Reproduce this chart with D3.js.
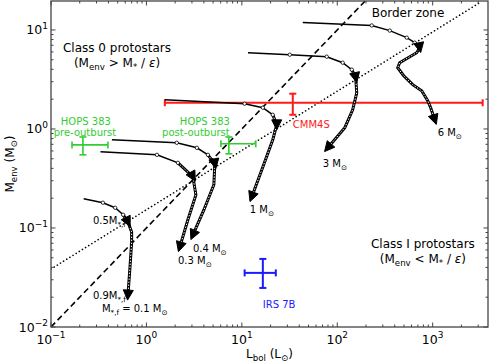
<!DOCTYPE html>
<html>
<head>
<meta charset="utf-8">
<script src="https://cdn.jsdelivr.net/npm/d3@7"></script>
<style>
body { margin: 0; background: #fff; }
text { font-family: "DejaVu Sans", sans-serif; }
</style>
</head>
<body>
<script>
var width = 491, height = 362;

// evolutionary tracks, final stellar mass and (Lbol, Menv) points
var trackMass = ["0.1", "0.3", "0.4", "1", "3", "6"];
var trackL = [
  [0.22, 0.35, 0.47, 0.57, 0.64, 0.70, 0.70, 0.67, 0.64],
  [0.33, 1.29, 2.14, 3.07, 3.30, 2.72, 2.24],
  [0.435, 2.08, 3.38, 4.41, 5.21, 5.09, 4.0, 3.07],
  [1.56, 10.7, 16.6, 21.1, 23.2, 21.1, 16.2, 12.7],
  [11.6, 31.8, 77.6, 114, 142, 156, 160, 145, 120, 79.6],
  [43.5, 230, 355, 535, 648, 731, 680, 451, 430, 497, 618, 767, 887, 953, 1050]
];
var trackM = [
  [0.197, 0.18, 0.16, 0.136, 0.115, 0.091, 0.071, 0.038, 0.021],
  [0.588, 0.548, 0.455, 0.329, 0.216, 0.121, 0.0644],
  [0.778, 0.725, 0.645, 0.548, 0.444, 0.273, 0.152, 0.085],
  [1.97, 1.80, 1.64, 1.39, 1.10, 0.778, 0.387, 0.206],
  [5.89, 5.62, 5.37, 4.67, 3.97, 3.30, 2.32, 1.56, 1.03, 0.646],
  [11.9, 11.1, 9.85, 8.36, 7.44, 6.62, 5.89, 4.67, 4.15, 3.45, 2.80, 2.43, 1.93, 1.64, 1.24]
];
// index of the point where half the final mass is reached
var halfIdx = [4, 3, 4, 4, 5, 5];

// observed sources
var srcName = ["HOPS 383 pre", "HOPS 383 post", "CMM4S", "IRS 7B"];
var srcL   = [0.216, 7.31, 34.2, 16.6];
var srcLlo = [0.166, 6.03, 1.56, 10.7];
var srcLhi = [0.395, 14.0, 3340, 22.7];
var srcM   = [0.69, 0.708, 1.84, 0.0352];
var srcMlo = [0.548, 0.561, 1.39, 0.0248];
var srcMhi = [0.83, 0.83, 2.27, 0.0487];
var srcColor = ["#33cc33", "#33cc33", "#ff1a1a", "#1a1aff"];

// class boundaries
var dashL = [0.1, 196], dashM = [0.01, 19.6];
var dotL = [0.1, 3240], dotM = [0.0385, 19.3];

var xMajor = [0.1, 1, 10, 100, 1000];
var yMajor = [0.01, 0.1, 1, 10];
var xExp = ["\u22121", "0", "1", "2", "3"];
var yExp = ["\u22122", "\u22121", "0", "1"];

var pLeft = 51, pRight = 488, pTop = 1, pBottom = 327;

var x = d3.scaleLog().domain([0.1, 3800]).range([pLeft, pRight]);
var y = d3.scaleLog().domain([0.01, 19.6]).range([pBottom, pTop]);

var svg = d3.select("body").append("svg")
    .attr("width", width)
    .attr("height", height);

svg.append("clipPath").attr("id", "clip")
  .append("rect").attr("x", pLeft).attr("y", pTop)
    .attr("width", pRight - pLeft).attr("height", pBottom - pTop);

// text with sub/superscripts
function rich(sel, px, py, parts, size, color, anchor) {
  var t = sel.append("text")
      .attr("x", px).attr("y", py)
      .attr("font-size", size)
      .attr("fill", color || "#000")
      .attr("text-anchor", anchor || "start");
  var off = 0;
  parts.forEach(function(p) {
    var s = typeof p === "string" ? [p, ""] : p;
    var target = s[1] == "sub" ? size * 0.28 : s[1] == "sup" ? -size * 0.45 : 0;
    var ts = t.append("tspan").text(s[0]).attr("dy", target - off);
    if (s[1] == "sub" || s[1] == "sup") ts.attr("font-size", size * 0.72);
    if (s[1] == "it") ts.attr("font-style", "italic");
    off = target;
  });
  return t;
}

var plot = svg.append("g").attr("clip-path", "url(#clip)");

var line = d3.line()
    .x(function(d) { return x(d[0]); })
    .y(function(d) { return y(d[1]); });

plot.append("path")
    .attr("d", line(d3.zip(dashL, dashM)))
    .attr("fill", "none").attr("stroke", "#000")
    .attr("stroke-width", 1.6).attr("stroke-dasharray", "6,3.5");

plot.append("path")
    .attr("d", line(d3.zip(dotL, dotM)))
    .attr("fill", "none").attr("stroke", "#000")
    .attr("stroke-width", 1.6).attr("stroke-linecap", "round")
    .attr("stroke-dasharray", "0.1,3.6");

// error bars
srcName.forEach(function(n, i) {
  var g = plot.append("g").attr("stroke", srcColor[i])
      .attr("stroke-width", i == 0 || i == 1 ? 1.6 : 2);
  var cx = x(srcL[i]), cy = y(srcM[i]);
  g.append("line").attr("x1", x(srcLlo[i])).attr("x2", x(srcLhi[i])).attr("y1", cy).attr("y2", cy);
  g.append("line").attr("x1", cx).attr("x2", cx).attr("y1", y(srcMlo[i])).attr("y2", y(srcMhi[i]));
  [srcLlo[i], srcLhi[i]].forEach(function(v) {
    g.append("line").attr("x1", x(v)).attr("x2", x(v)).attr("y1", cy - 3.5).attr("y2", cy + 3.5);
  });
  [srcMlo[i], srcMhi[i]].forEach(function(v) {
    g.append("line").attr("x1", cx - 3.5).attr("x2", cx + 3.5).attr("y1", y(v)).attr("y2", y(v));
  });
});

// tracks
trackMass.forEach(function(m, k) {
  var pts = d3.zip(trackL[k], trackM[k]);
  var late = pts.slice(halfIdx[k] - 1);
  var g = plot.append("g");
  g.append("path").attr("d", line(pts))
      .attr("fill", "none").attr("stroke", "#000").attr("stroke-width", 1.5);
  // beaded look of the late, densely sampled part
  g.append("path").attr("d", line(late))
      .attr("fill", "none").attr("stroke", "#000").attr("stroke-width", 3);
  g.append("path").attr("d", line(late))
      .attr("fill", "none").attr("stroke", "#fff").attr("stroke-width", 1)
      .attr("stroke-dasharray", "1.4,1.6");
  g.selectAll("circle").data(pts.slice(1, halfIdx[k])).enter().append("circle")
      .attr("cx", function(d) { return x(d[0]); })
      .attr("cy", function(d) { return y(d[1]); })
      .attr("r", 1.7).attr("fill", "#fff").attr("stroke", "#000").attr("stroke-width", 0.8);
  [halfIdx[k], pts.length - 1].forEach(function(i) {
    var a = pts[Math.max(i - 1, 0)], b = pts[Math.min(i + 1, pts.length - 1)];
    var dx = x(b[0]) - x(a[0]), dy = y(b[1]) - y(a[1]);
    var len = Math.sqrt(dx * dx + dy * dy);
    dx /= len; dy /= len;
    var px = x(pts[i][0]), py = y(pts[i][1]);
    var L = 5, W = 5;
    var tri = [
      [px + dx * L, py + dy * L],
      [px - dx * L - dy * W, py - dy * L + dx * W],
      [px - dx * L + dy * W, py - dy * L - dx * W]
    ];
    g.append("path").attr("d", "M" + tri.join("L") + "Z")
        .attr("fill", "#000").attr("stroke", "#000").attr("stroke-width", 1);
  });
});

// frame and ticks
var frame = svg.append("g").attr("stroke", "#444").attr("fill", "none");
frame.append("rect").attr("x", pLeft).attr("y", pTop)
    .attr("width", pRight - pLeft).attr("height", pBottom - pTop).attr("stroke-width", 1.3);

var xTicks = x.ticks().filter(function(v) { return v >= 0.1 && v <= 3800; });
var yTicks = y.ticks().filter(function(v) { return v >= 0.01 && v <= 19.6; });
function isMajor(v) { return Math.abs(Math.log10(v) - Math.round(Math.log10(v))) < 1e-6; }

xTicks.forEach(function(v) {
  var s = isMajor(v) ? 4.5 : 2.5, px = x(v);
  frame.append("line").attr("x1", px).attr("x2", px).attr("y1", pBottom).attr("y2", pBottom - s);
  frame.append("line").attr("x1", px).attr("x2", px).attr("y1", pTop).attr("y2", pTop + s);
});
yTicks.forEach(function(v) {
  var s = isMajor(v) ? 4.5 : 2.5, py = y(v);
  frame.append("line").attr("y1", py).attr("y2", py).attr("x1", pLeft).attr("x2", pLeft + s);
  frame.append("line").attr("y1", py).attr("y2", py).attr("x1", pRight).attr("x2", pRight - s);
});

xMajor.forEach(function(v, i) {
  rich(svg, x(v), pBottom + 17, ["10", [xExp[i], "sup"]], 12.5, "#000", "middle");
});
yMajor.forEach(function(v, i) {
  rich(svg, pLeft - 3, y(v) + 4.5, ["10", [yExp[i], "sup"]], 12.5, "#000", "end");
});

rich(svg, (pLeft + pRight) / 2, 358, ["L", ["bol", "sub"], " (L", ["\u2299", "sub"], ")"], 12, "#000", "middle");
rich(svg.append("g").attr("transform", "translate(14," + ((pTop + pBottom) / 2) + ") rotate(-90)"),
     0, 0, ["M", ["env", "sub"], " (M", ["\u2299", "sub"], ")"], 12, "#000", "middle");

// region labels
var fx = function(f) { return pLeft + f * (pRight - pLeft); };
var fy = function(f) { return pTop + f * (pBottom - pTop); };
rich(svg, fx(0.151), fy(0.157), ["Class 0 protostars"], 12, "#000", "middle");
rich(svg, fx(0.151), fy(0.201), ["(M", ["env", "sub"], " > M", ["*", "sub"], " / ", ["\u03b5", "it"], ")"], 12, "#000", "middle");
rich(svg, fx(0.817), fy(0.049), ["Border zone"], 12, "#000", "middle");
rich(svg, fx(0.851), fy(0.758), ["Class I protostars"], 12, "#000", "middle");
rich(svg, fx(0.851), fy(0.804), ["(M", ["env", "sub"], " < M", ["*", "sub"], " / ", ["\u03b5", "it"], ")"], 12, "#000", "middle");

// source labels
rich(svg, x(0.232), y(1.10), ["HOPS 383"], 10, "#33cc33", "middle");
rich(svg, x(0.227), y(0.853), ["pre-outburst"], 10, "#33cc33", "middle");
rich(svg, x(4.10), y(1.10), ["HOPS 383"], 10, "#33cc33", "middle");
rich(svg, x(3.30), y(0.853), ["post-outburst"], 10, "#33cc33", "middle");
rich(svg, x(34.2), y(1.03), ["CMM4S"], 10, "#ff1a1a", "start");
rich(svg, x(16.6), y(0.0156), ["IRS 7B"], 10, "#1a1aff", "start");

// track labels
var sun = ["\u2299", "sub"];
rich(svg, x(1127), y(0.853), ["6 M", sun], 10, "#000", "start");
rich(svg, x(70.5), y(0.415), ["3 M", sun], 10, "#000", "start");
rich(svg, x(12.1), y(0.142), ["1 M", sun], 10, "#000", "start");
rich(svg, x(3.07), y(0.0573), ["0.4 M", sun], 10, "#000", "start");
rich(svg, x(2.14), y(0.0433), ["0.3 M", sun], 10, "#000", "start");
rich(svg, x(0.275), y(0.110), ["0.5M", ["*,f", "sub"]], 10, "#000", "start");
rich(svg, x(0.275), y(0.0192), ["0.9M", ["*,f", "sub"]], 10, "#000", "start");
rich(svg, x(0.342), y(0.0142), ["M", ["*,f", "sub"], " = 0.1 M", sun], 10, "#000", "start");
</script>
</body>
</html>
